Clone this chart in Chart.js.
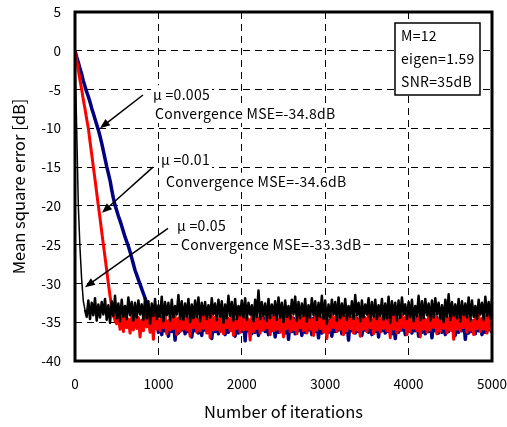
<!DOCTYPE html>
<html>
<head>
<meta charset="utf-8">
<script src="https://cdn.jsdelivr.net/npm/chart.js@4.4.0/dist/chart.umd.min.js"></script>
<style>
  html, body { margin: 0; padding: 0; background: #fff; }
  #wrap { width: 507px; height: 427px; }
</style>
</head>
<body>
<div id="wrap"><canvas id="mse" width="507" height="427"></canvas></div>
<script>
// MSE learning curves, sampled every 20 iterations (0 .. 5000)
const STEP = 20;
const N = 251;
const iterations = Array.from({ length: N }, (_, i) => i * STEP);

// mu = 0.05 (black): fast drop, then floor
const blackDescent = [0, -10.0, -20.0, -25.5, -29.5, -32.3, -33.4];
const blackFloor = [
  -34.3,-32.2,-34.6,-32.5,-34.1,-31.9,-34.8,-32.7,-34.4,-32.4,-34.0,-32.0,-34.7,-32.8,-35.1,-32.3,
  -34.2,-31.6,-34.5,-32.6,-34.9,-32.1,-34.3,-32.9,-34.6,-31.8,-34.1,-32.4,-34.8,-32.5,-34.4,-32.2,
  -34.0,-32.7,-34.7,-31.9,-34.5,-32.3,-35.2,-32.6,-34.2,-32.0,-34.6,-32.8,-34.3,-31.7,-34.9,-32.4,
  -34.1,-32.5,-34.8,-32.1,-34.4,-32.9,-34.0,-31.5,-34.6,-32.3,-34.7,-32.6,-34.2,-32.0,-35.0,-32.7,
  -34.5,-32.2,-34.3,-31.8,-34.9,-32.5,-34.1,-32.4,-34.6,-32.8,-34.4,-31.9,-34.0,-32.6,-34.7,-32.1,
  -34.3,-32.3,-35.1,-32.7,-34.5,-31.6,-34.2,-32.4,-34.8,-32.0,-34.6,-32.9,-34.1,-32.2,-34.4,-31.9,
  -34.7,-32.5,-34.0,-32.8,-34.9,-32.1,-34.3,-30.9,-34.6,-32.4,-34.2,-32.6,-34.8,-32.0,-34.5,-32.7,
  -34.1,-32.3,-34.7,-31.8,-34.4,-32.5,-35.0,-32.2,-34.3,-32.9,-34.6,-32.1,-34.0,-31.7,-34.8,-32.4,
  -34.5,-32.6,-34.2,-32.0,-34.9,-32.8,-34.4,-31.9,-34.1,-32.3,-34.7,-32.5,-34.3,-31.6,-34.6,-32.2,
  -35.2,-32.7,-34.4,-32.1,-34.0,-32.4,-34.8,-31.8,-34.5,-32.6,-34.2,-32.0,-34.7,-32.9,-34.3,-32.3,
  -34.6,-31.5,-34.1,-32.5,-34.9,-32.2,-34.4,-32.7,-34.0,-31.9,-34.8,-32.4,-34.3,-32.1,-34.6,-32.8,
  -34.2,-32.0,-34.7,-32.6,-34.5,-31.7,-35.1,-32.3,-34.1,-32.5,-34.8,-32.2,-34.4,-31.8,-34.0,-32.7,
  -34.6,-32.4,-34.3,-32.1,-34.9,-32.9,-34.2,-31.6,-34.7,-32.3,-34.5,-32.0,-34.1,-32.6,-34.8,-32.2,
  -34.4,-31.9,-34.0,-32.5,-34.6,-32.8,-35.0,-32.1,-34.3,-31.4,-34.7,-32.4,-34.2,-32.7,-34.5,-32.0,
  -34.9,-32.3,-34.1,-32.6,-34.4,-31.8,-34.8,-32.2,-34.3,-32.9,-34.6,-32.1,-34.0,-32.5,-34.7,-31.7,
  -34.2,-32.4,-34.5,-32.0
];

// mu = 0.01 (red)
const redDescent = [
  0, -1.3, -2.5, -3.8, -5.0, -6.3, -7.5, -8.8, -10.0, -11.7, -13.3, -15.0, -16.6,
  -18.3, -20.0, -21.6, -23.3, -25.0, -26.6, -28.3, -30.0, -31.6, -33.0, -34.1, -34.8, -35.2
];
const redFloor = [
  -34.2,-35.9,-34.5,-36.2,-34.0,-35.7,-34.6,-36.4,-34.3,-36.0,-33.8,-35.8,-34.4,-36.9,-34.7,-36.1,
  -34.1,-35.6,-34.5,-36.3,-34.2,-37.2,-33.9,-35.9,-34.6,-36.1,-34.3,-35.7,-34.0,-36.5,-34.8,-36.0,
  -34.4,-35.8,-34.1,-36.6,-34.5,-36.2,-33.7,-35.9,-34.3,-36.0,-34.6,-36.8,-34.2,-35.7,-34.0,-36.3,
  -34.7,-36.1,-34.3,-35.8,-34.1,-36.4,-34.5,-37.0,-33.9,-36.0,-34.4,-35.9,-34.6,-36.2,-34.2,-36.5,
  -34.0,-35.7,-34.5,-36.1,-34.3,-36.7,-34.7,-35.8,-34.1,-36.3,-33.8,-36.0,-34.4,-35.9,-34.6,-37.3,
  -34.2,-36.2,-34.0,-35.8,-34.5,-36.4,-34.3,-36.0,-34.8,-35.7,-34.1,-36.6,-34.4,-36.1,-33.9,-35.9,
  -34.6,-36.3,-34.2,-36.9,-34.5,-35.8,-34.0,-36.2,-34.3,-36.0,-34.7,-36.5,-34.1,-35.7,-34.4,-36.1,
  -34.2,-36.4,-33.7,-35.9,-34.6,-36.7,-34.3,-36.0,-34.0,-35.8,-34.5,-36.3,-34.2,-37.1,-34.8,-36.0,
  -34.1,-35.7,-34.4,-36.2,-34.6,-35.9,-34.0,-36.6,-34.3,-36.1,-33.8,-35.8,-34.5,-36.4,-34.2,-36.0,
  -34.7,-36.8,-34.1,-35.9,-34.4,-36.2,-34.0,-35.7,-34.6,-36.5,-34.3,-36.0,-33.9,-36.3,-34.5,-35.8,
  -34.2,-36.1,-34.6,-37.0,-34.0,-35.9,-34.3,-36.4,-34.7,-36.0,-34.1,-35.7,-34.4,-36.6,-34.2,-36.2,
  -33.8,-35.8,-34.5,-36.1,-34.3,-36.9,-34.0,-35.9,-34.6,-36.3,-34.2,-36.0,-34.4,-35.7,-34.1,-36.5,
  -34.7,-36.2,-34.3,-35.8,-34.0,-36.4,-34.5,-36.0,-34.2,-37.2,-33.9,-35.9,-34.6,-36.1,-34.3,-35.7,
  -34.1,-36.3,-34.4,-36.0,-34.8,-36.6,-34.2,-35.8,-34.0,-36.2,-34.5,-35.9,-34.3,-36.4,-34.1,-36.0,
  -34.4
];

// mu = 0.005 (blue)
const blueDescent = [
  0, -0.8, -1.5, -2.3, -3.0, -3.9, -4.6, -5.3, -5.9, -6.6, -7.4, -8.1, -8.8, -9.5,
  -10.2, -11.0, -11.9, -12.9, -13.9, -14.9, -15.8, -16.7, -17.9, -19.0, -19.9, -20.6,
  -21.3, -21.9, -22.6, -23.3, -24.0, -24.6, -25.2, -25.9, -26.7, -27.5, -28.3, -28.9,
  -29.5, -30.1, -30.7, -31.3, -31.9, -32.5, -33.1, -33.6, -34.2, -34.6, -35.0
];
const blueFloor = [
  -34.6,-36.3,-34.8,-36.6,-34.4,-36.1,-35.0,-36.8,-34.7,-36.2,-34.5,-37.3,-34.9,-36.4,-34.6,-36.0,
  -34.8,-36.5,-34.4,-36.2,-34.7,-36.9,-35.0,-36.1,-34.5,-36.4,-34.8,-36.7,-34.3,-36.0,-34.9,-36.3,
  -34.6,-37.1,-34.8,-36.2,-34.4,-36.5,-34.7,-36.1,-35.0,-36.6,-34.5,-36.3,-34.9,-36.0,-34.6,-36.8,
  -34.8,-36.4,-34.3,-36.2,-34.7,-37.4,-34.5,-36.1,-34.9,-36.5,-34.6,-36.3,-34.4,-36.7,-34.8,-36.0,
  -34.5,-36.2,-35.0,-36.6,-34.7,-36.1,-34.4,-36.9,-34.8,-36.3,-34.6,-36.0,-34.9,-36.4,-34.3,-37.2,
  -34.7,-36.2,-34.5,-36.5,-34.8,-36.1,-34.6,-36.7,-34.4,-36.3,-34.9,-36.0,-34.7,-36.6,-34.5,-36.2,
  -34.8,-37.0,-34.4,-36.4,-34.6,-36.1,-35.0,-36.3,-34.7,-36.8,-34.5,-36.2,-34.9,-36.0,-34.3,-36.5,
  -34.6,-36.3,-34.8,-37.3,-34.4,-36.1,-34.7,-36.4,-34.5,-36.2,-34.9,-36.7,-34.6,-36.0,-34.8,-36.3,
  -34.4,-36.6,-34.7,-36.2,-34.5,-36.9,-34.9,-36.1,-34.6,-36.4,-34.3,-36.2,-34.8,-36.5,-34.6,-37.1,
  -34.7,-36.3,-34.4,-36.0,-34.9,-36.6,-34.5,-36.2,-34.8,-36.4,-34.6,-36.1,-34.4,-36.8,-34.7,-36.3,
  -34.5,-36.5,-34.9,-36.2,-34.6,-37.0,-34.8,-36.1,-34.4,-36.4,-34.7,-36.3,-34.5,-36.6,-34.9,-36.2,
  -34.6,-36.0,-34.8,-36.7,-34.4,-36.3,-34.7,-36.1,-34.5,-37.2,-34.9,-36.4,-34.6,-36.2,-34.8,-36.5,
  -34.4,-36.1,-34.7,-36.6,-34.5,-36.3,-34.9,-36.0,-34.6,-36.4
];

const blackValues = blackDescent.concat(blackFloor);
const redValues = redDescent.concat(redFloor);
const blueValues = blueDescent.concat(blueFloor);
[blackValues, redValues, blueValues].forEach(v => {
  if (v.length !== N) console.error('series length', v.length);
});

// annotation texts, placed in data coordinates
const notes = [
  { mu: 'μ =0.005', mse: 'Convergence MSE=-34.8dB', muAt: [935, -5.6], mseAt: [959, -8.15], from: [815, -5.7], to: [300, -10.0] },
  { mu: 'μ =0.01',  mse: 'Convergence MSE=-34.6dB', muAt: [1031, -14.1], mseAt: [1091, -16.9], from: [935, -15.0], to: [324, -20.9] },
  { mu: 'μ =0.05',  mse: 'Convergence MSE=-33.3dB', muAt: [1223, -22.5], mseAt: [1271, -25.0], from: [1115, -22.9], to: [120, -30.5] }
];
const infoLines = ['M=12', 'eigen=1.59', 'SNR=35dB'];

const FONT = '"Noto Sans CJK JP", "Noto Sans", sans-serif';

function toPoints(vals) {
  return vals.map((v, i) => ({ x: iterations[i], y: v }));
}

function arrow(ctx, x1, y1, x2, y2) {
  const ang = Math.atan2(y2 - y1, x2 - x1);
  const head = 10, half = 4;
  ctx.beginPath();
  ctx.moveTo(x1, y1);
  ctx.lineTo(x2 - Math.cos(ang) * head * 0.8, y2 - Math.sin(ang) * head * 0.8);
  ctx.stroke();
  ctx.beginPath();
  ctx.moveTo(x2, y2);
  ctx.lineTo(x2 - head * Math.cos(ang) + half * Math.sin(ang), y2 - head * Math.sin(ang) - half * Math.cos(ang));
  ctx.lineTo(x2 - head * Math.cos(ang) - half * Math.sin(ang), y2 - head * Math.sin(ang) + half * Math.cos(ang));
  ctx.closePath();
  ctx.fill();
}

function label(ctx, text, x, y) {
  const w = ctx.measureText(text).width;
  ctx.fillStyle = '#fff';
  ctx.fillRect(x - 2, y - 9, w + 4, 18);
  ctx.fillStyle = '#000';
  ctx.fillText(text, x, y);
}

const overlay = {
  id: 'overlay',
  afterDatasetsDraw(chart) {
    const { ctx, chartArea: a, scales: { x, y } } = chart;
    ctx.save();
    ctx.font = '14px ' + FONT;
    ctx.letterSpacing = '0.3px';
    ctx.textBaseline = 'middle';
    ctx.textAlign = 'left';
    ctx.strokeStyle = '#000';
    ctx.fillStyle = '#000';
    ctx.lineWidth = 1.5;

    notes.forEach(n => {
      label(ctx, n.mu, x.getPixelForValue(n.muAt[0]), y.getPixelForValue(n.muAt[1]));
      label(ctx, n.mse, x.getPixelForValue(n.mseAt[0]), y.getPixelForValue(n.mseAt[1]));
      ctx.fillStyle = '#000';
      arrow(ctx, x.getPixelForValue(n.from[0]), y.getPixelForValue(n.from[1]),
                 x.getPixelForValue(n.to[0]), y.getPixelForValue(n.to[1]));
    });

    // parameter box, top right
    const bx = a.right - 97, by = a.top + 11, bw = 85, bh = 72;
    ctx.fillStyle = '#fff';
    ctx.fillRect(bx, by, bw, bh);
    ctx.lineWidth = 1.5;
    ctx.strokeRect(bx, by, bw, bh);
    ctx.fillStyle = '#000';
    infoLines.forEach((t, i) => ctx.fillText(t, bx + 6, by + 13 + i * 23));

    // heavy frame
    ctx.lineWidth = 3;
    ctx.strokeRect(a.left, a.top, a.width, a.height);
    ctx.restore();
  }
};

new Chart(document.getElementById('mse').getContext('2d'), {
  type: 'line',
  data: {
    datasets: [
      {
        label: 'mu=0.05', data: toPoints(blackValues), borderColor: '#000000', borderWidth: 2.5,
        segment: { borderWidth: c => (c.p0DataIndex < blackDescent.length - 1 ? 1.5 : 2.5) }
      },
      { label: 'mu=0.01', data: toPoints(redValues), borderColor: '#FF0000', borderWidth: 3 },
      { label: 'mu=0.005', data: toPoints(blueValues), borderColor: '#000080', borderWidth: 3.5 }
    ]
  },
  options: {
    responsive: false,
    animation: false,
    events: [],
    elements: { point: { radius: 0 }, line: { tension: 0, borderJoinStyle: 'round' } },
    layout: { padding: { top: 12, right: 15, left: 0, bottom: 0 } },
    plugins: { legend: { display: false }, tooltip: { enabled: false } },
    scales: {
      x: {
        type: 'linear',
        min: 0, max: 5000,
        afterFit: s => { s.height = 66; s.paddingLeft = 0; s.paddingRight = 0; },
        ticks: {
          stepSize: 1000, color: '#000', font: { family: FONT, size: 13.5 }, padding: 15,
          maxRotation: 0, autoSkip: false, callback: v => String(v)
        },
        grid: { color: '#000', lineWidth: 1, drawTicks: false },
        border: { display: false, dash: [7, 5] },
        title: { display: true, text: 'Number of iterations', color: '#000', font: { family: FONT, size: 16.5 }, padding: { top: 0, bottom: 5 } }
      },
      y: {
        min: -40, max: 5,
        afterFit: s => { s.width = 75; s.paddingTop = 0; s.paddingBottom = 0; },
        ticks: { stepSize: 5, color: '#000', font: { family: FONT, size: 13.5 }, padding: 14, autoSkip: false, callback: v => String(v) },
        grid: { color: '#000', lineWidth: 1, drawTicks: false },
        border: { display: false, dash: [7, 5] },
        title: { display: true, text: 'Mean square error [dB]', color: '#000', font: { family: FONT, size: 16.5 }, padding: { top: 9, bottom: 0 } }
      }
    }
  },
  plugins: [overlay]
});
</script>
</body>
</html>
